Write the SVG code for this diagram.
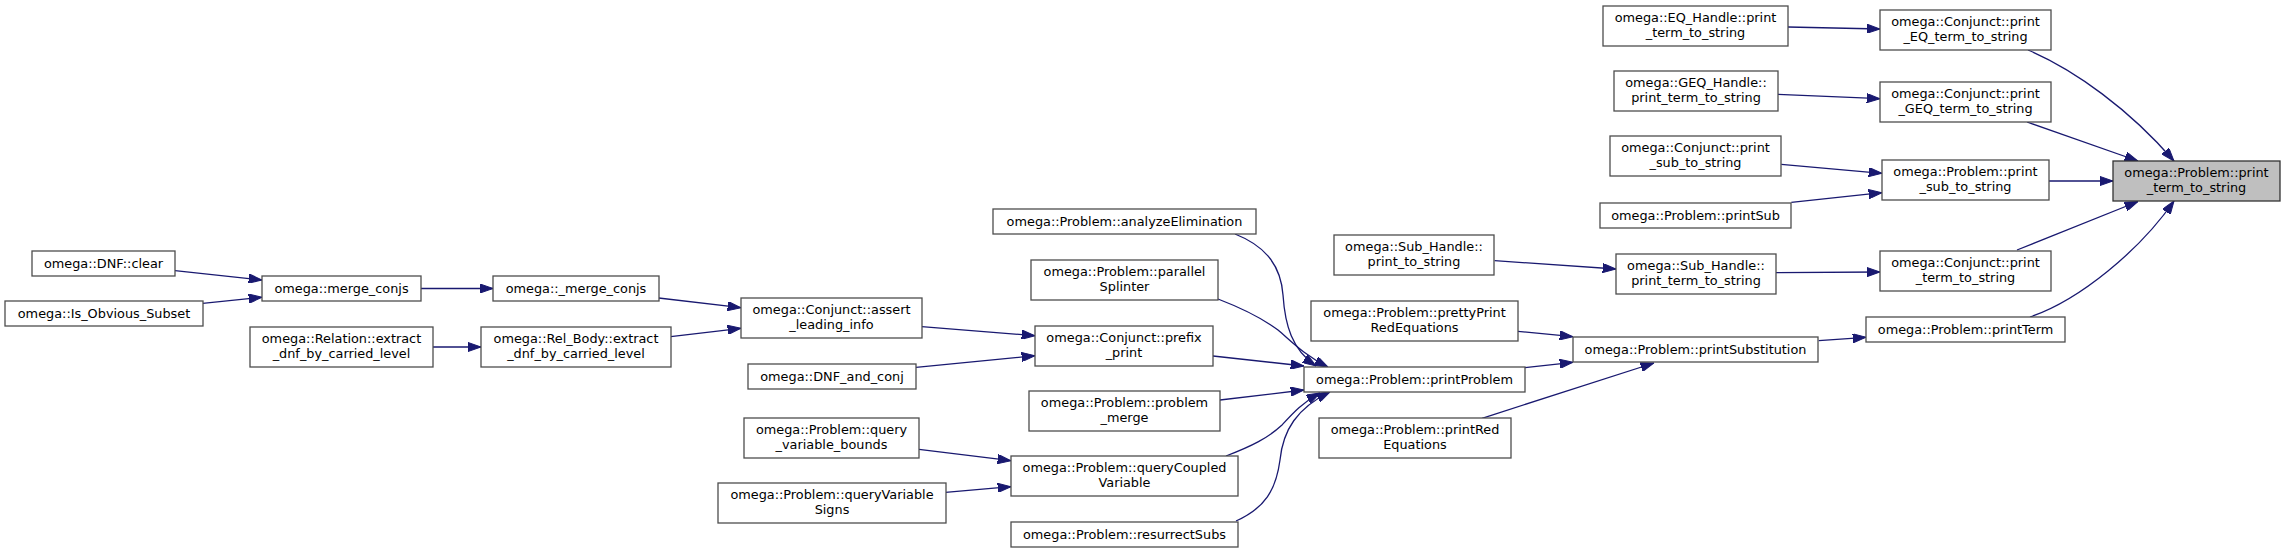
<svg xmlns="http://www.w3.org/2000/svg" width="2285" height="554" viewBox="0 0 2285 554">
<style>
.n rect{fill:#ffffff;stroke:#4d4d4d;stroke-width:1.3}
.n.cur rect{fill:#bfbfbf;stroke:#333333}
.n text{font-family:"DejaVu Sans",sans-serif;font-size:12.85px;text-anchor:middle;fill:#000}
#edges path{fill:none;stroke:#191970;stroke-width:1.3;marker-end:url(#ah)}
</style>
<defs>
<marker id="ah" markerUnits="userSpaceOnUse" viewBox="0 0 13.3 9.3" refX="13.3" refY="4.65" markerWidth="13.3" markerHeight="9.3" orient="auto">
<path d="M0,0 L13.3,4.65 L0,9.3 z" fill="#191970" stroke="#191970" stroke-width="1"/>
</marker>
</defs>
<rect width="2285" height="554" fill="#ffffff"/>
<g id="edges">
<path d="M175,270.7 L262,280"/>
<path d="M202.7,303.3 L262,297.3"/>
<path d="M421,288.5 L493,288.5"/>
<path d="M658.7,298 L741,307.7"/>
<path d="M433,347 L481,347"/>
<path d="M670.7,336.7 L741,328.3"/>
<path d="M921.7,326.7 L1035,335.7"/>
<path d="M916,367.3 L1035,355.7"/>
<path d="M1235,234 C1268,247 1281,268 1283,295 C1285,325 1292,350 1316,366"/>
<path d="M1218,299 C1244,309 1262,318 1278,330 C1291,341 1304,355 1328,367"/>
<path d="M1213,356 L1304,366"/>
<path d="M1220,400 L1304,390"/>
<path d="M1226,456 C1252,446 1268,438 1282,425 C1293,413 1303,402 1320,393"/>
<path d="M1236,521 C1265,508 1276,490 1280,460 C1283,430 1297,408 1330,392"/>
<path d="M919,449.3 L1011,460.7"/>
<path d="M945.5,492.3 L1011,486.7"/>
<path d="M1518,331.3 L1573,336.7"/>
<path d="M1525,367.7 L1573,362.3"/>
<path d="M1482,418.3 L1654,363"/>
<path d="M1818.7,340.7 L1866,337.3"/>
<path d="M1494.6,260.7 L1616,269"/>
<path d="M1776,272.7 L1880,272"/>
<path d="M1788,27 L1880,29"/>
<path d="M1778,94.3 L1880,98.7"/>
<path d="M1781.3,164.3 L1882,173.3"/>
<path d="M1791.3,202.3 L1882,192.7"/>
<path d="M2028,50 C2075,70 2130,110 2174,161"/>
<path d="M2027,122 L2138,161"/>
<path d="M2049,181 L2113,181"/>
<path d="M2017,250 L2138,201.5"/>
<path d="M2030,317 C2080,300 2140,250 2174,201"/>
</g>
<g id="n_dnf_clear" class="n"><rect x="32" y="251" width="143" height="25"/><text x="103.5" y="268">omega::DNF::clear</text></g>
<g id="n_is_obvious" class="n"><rect x="5" y="301" width="198" height="25"/><text x="104" y="318">omega::Is_Obvious_Subset</text></g>
<g id="n_merge_conjs" class="n"><rect x="262" y="276" width="159" height="25"/><text x="341.5" y="293">omega::merge_conjs</text></g>
<g id="n_rel_extract" class="n"><rect x="250" y="327" width="183" height="40"/><text x="341.5" y="343">omega::Relation::extract</text><text x="341.5" y="358">_dnf_by_carried_level</text></g>
<g id="n_umerge_conjs" class="n"><rect x="493" y="276" width="166" height="25"/><text x="576" y="293">omega::_merge_conjs</text></g>
<g id="n_relbody_extract" class="n"><rect x="481" y="327" width="190" height="40"/><text x="576" y="343">omega::Rel_Body::extract</text><text x="576" y="358">_dnf_by_carried_level</text></g>
<g id="n_assert" class="n"><rect x="741" y="298" width="181" height="40"/><text x="831.5" y="314">omega::Conjunct::assert</text><text x="831.5" y="329">_leading_info</text></g>
<g id="n_dnf_and_conj" class="n"><rect x="748" y="364" width="168" height="25"/><text x="832" y="381">omega::DNF_and_conj</text></g>
<g id="n_analyze" class="n"><rect x="993" y="209" width="263" height="25"/><text x="1124.5" y="226">omega::Problem::analyzeElimination</text></g>
<g id="n_parallel" class="n"><rect x="1031" y="260" width="187" height="40"/><text x="1124.5" y="276">omega::Problem::parallel</text><text x="1124.5" y="291">Splinter</text></g>
<g id="n_prefix_print" class="n"><rect x="1035" y="326" width="178" height="40"/><text x="1124" y="342">omega::Conjunct::prefix</text><text x="1124" y="357">_print</text></g>
<g id="n_problem_merge" class="n"><rect x="1029" y="391" width="191" height="40"/><text x="1124.5" y="407">omega::Problem::problem</text><text x="1124.5" y="422">_merge</text></g>
<g id="n_query_bounds" class="n"><rect x="744" y="418" width="175" height="40"/><text x="831.5" y="434">omega::Problem::query</text><text x="831.5" y="449">_variable_bounds</text></g>
<g id="n_query_signs" class="n"><rect x="718" y="483" width="228" height="40"/><text x="832" y="499">omega::Problem::queryVariable</text><text x="832" y="514">Signs</text></g>
<g id="n_query_coupled" class="n"><rect x="1011" y="456" width="227" height="40"/><text x="1124.5" y="472">omega::Problem::queryCoupled</text><text x="1124.5" y="487">Variable</text></g>
<g id="n_resurrect" class="n"><rect x="1011" y="522" width="227" height="25"/><text x="1124.5" y="539">omega::Problem::resurrectSubs</text></g>
<g id="n_print_problem" class="n"><rect x="1304" y="367" width="221" height="25"/><text x="1414.5" y="384">omega::Problem::printProblem</text></g>
<g id="n_pretty_print" class="n"><rect x="1311" y="301" width="207" height="40"/><text x="1414.5" y="317">omega::Problem::prettyPrint</text><text x="1414.5" y="332">RedEquations</text></g>
<g id="n_print_red" class="n"><rect x="1319" y="418" width="192" height="40"/><text x="1415" y="434">omega::Problem::printRed</text><text x="1415" y="449">Equations</text></g>
<g id="n_print_subst" class="n"><rect x="1573" y="337" width="245" height="25"/><text x="1695.5" y="354">omega::Problem::printSubstitution</text></g>
<g id="n_subh_print" class="n"><rect x="1334" y="235" width="160" height="40"/><text x="1414" y="251">omega::Sub_Handle::</text><text x="1414" y="266">print_to_string</text></g>
<g id="n_print_sub" class="n"><rect x="1600" y="203" width="191" height="25"/><text x="1695.5" y="220">omega::Problem::printSub</text></g>
<g id="n_subh_term" class="n"><rect x="1616" y="254" width="160" height="40"/><text x="1696" y="270">omega::Sub_Handle::</text><text x="1696" y="285">print_term_to_string</text></g>
<g id="n_eqh" class="n"><rect x="1603" y="6" width="185" height="40"/><text x="1695.5" y="22">omega::EQ_Handle::print</text><text x="1695.5" y="37">_term_to_string</text></g>
<g id="n_geqh" class="n"><rect x="1614" y="71" width="164" height="40"/><text x="1696" y="87">omega::GEQ_Handle::</text><text x="1696" y="102">print_term_to_string</text></g>
<g id="n_conj_sub" class="n"><rect x="1610" y="136" width="171" height="40"/><text x="1695.5" y="152">omega::Conjunct::print</text><text x="1695.5" y="167">_sub_to_string</text></g>
<g id="n_conj_eq" class="n"><rect x="1880" y="10" width="171" height="40"/><text x="1965.5" y="26">omega::Conjunct::print</text><text x="1965.5" y="41">_EQ_term_to_string</text></g>
<g id="n_conj_geq" class="n"><rect x="1880" y="82" width="171" height="40"/><text x="1965.5" y="98">omega::Conjunct::print</text><text x="1965.5" y="113">_GEQ_term_to_string</text></g>
<g id="n_prob_sub" class="n"><rect x="1882" y="160" width="167" height="40"/><text x="1965.5" y="176">omega::Problem::print</text><text x="1965.5" y="191">_sub_to_string</text></g>
<g id="n_conj_term" class="n"><rect x="1880" y="251" width="171" height="40"/><text x="1965.5" y="267">omega::Conjunct::print</text><text x="1965.5" y="282">_term_to_string</text></g>
<g id="n_print_term" class="n"><rect x="1866" y="317" width="199" height="25"/><text x="1965.5" y="334">omega::Problem::printTerm</text></g>
<g id="n_target" class="n cur"><rect x="2113" y="161" width="167" height="40"/><text x="2196.5" y="177">omega::Problem::print</text><text x="2196.5" y="192">_term_to_string</text></g>
</svg>
